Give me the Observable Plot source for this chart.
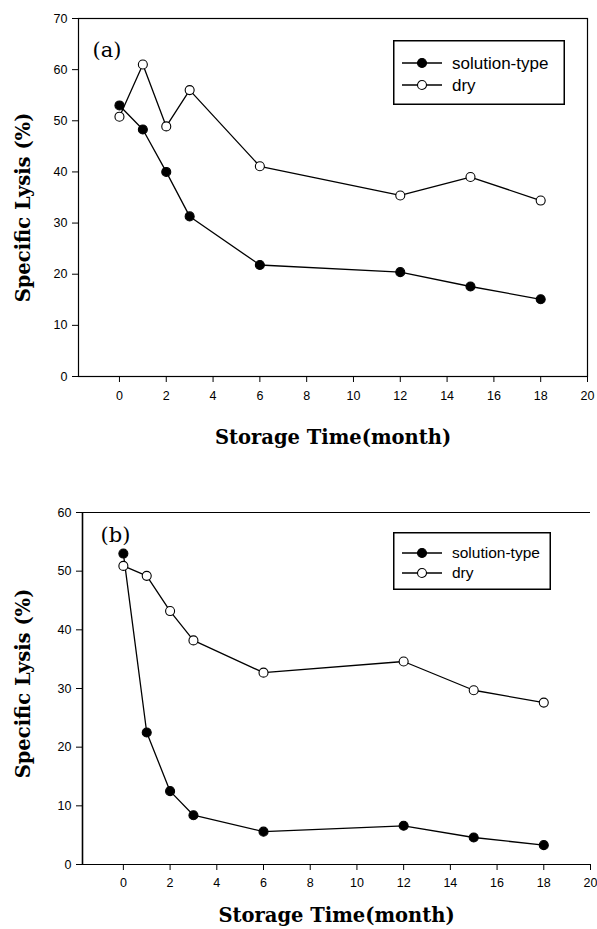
<!DOCTYPE html>
<html>
<head>
<meta charset="utf-8">
<script src="https://cdn.jsdelivr.net/npm/d3@7"></script>
<script src="https://cdn.jsdelivr.net/npm/@observablehq/plot@0.6"></script>
<style>
  html, body { margin: 0; padding: 0; background: #fff; }
  #wrap { width: 597px; }
  .panel { position: relative; width: 597px; }
  .legend { position: absolute; background: #fff; }
</style>
</head>
<body>
<div id="wrap"></div>
<script>
// ---- data ----
const months = [0, 1, 2, 3, 6, 12, 15, 18];
const solutionA = [53, 48.3, 40, 31.3, 21.8, 20.4, 17.6, 15.1];
const dryA = [50.8, 61, 48.9, 56, 41.1, 35.4, 39, 34.4];
const solutionB = [53, 22.5, 12.5, 8.4, 5.6, 6.6, 4.6, 3.3];
const dryB = [50.9, 49.2, 43.2, 38.2, 32.7, 34.6, 29.7, 27.6];
const seriesNames = ["solution-type", "dry"];
const xTicks = [0, 2, 4, 6, 8, 10, 12, 14, 16, 18, 20];
const yTicksA = [0, 10, 20, 30, 40, 50, 60, 70];
const yTicksB = [0, 10, 20, 30, 40, 50, 60];
const xDomain = [-1.75, 20];
const panelLabels = ["(a)", "(b)"];
const xTitle = "Storage Time(month)";
const yTitle = "Specific Lysis (%)";

function rows(sol, dry) {
  const out = [];
  months.forEach((m, i) => out.push({month: m, value: sol[i], series: seriesNames[0]}));
  months.forEach((m, i) => out.push({month: m, value: dry[i], series: seriesNames[1]}));
  return out;
}

const serif = "'DejaVu Serif', serif";
const sans = "'Liberation Sans', Arial, sans-serif";

function makePanel(cfg) {
  const data = rows(cfg.sol, cfg.dry);
  const sol = data.filter(d => d.series === seriesNames[0]);
  const dry = data.filter(d => d.series === seriesNames[1]);
  const frameMarks = cfg.fullFrame
    ? [Plot.frame({stroke: "#000", strokeWidth: 1.2})]
    : [
        Plot.ruleY([cfg.yDomain[1]], {stroke: "#000", strokeWidth: 1.2}),
        Plot.ruleY([cfg.yDomain[0]], {stroke: "#000", strokeWidth: 1.2}),
        Plot.ruleX([xDomain[0]], {stroke: "#000", strokeWidth: 1.6})
      ];
  const plot = Plot.plot({
    width: 597,
    height: cfg.height,
    marginTop: cfg.mt,
    marginBottom: cfg.mb,
    marginLeft: cfg.ml,
    marginRight: cfg.mr,
    style: {fontFamily: sans, fontSize: "12px", color: "#000", background: "#fff"},
    x: {domain: xDomain},
    y: {domain: cfg.yDomain},
    marks: [
      ...frameMarks,
      Plot.axisX(xTicks, {tickSize: 6, tickPadding: cfg.xPad, label: null, fontSize: 12.5}),
      Plot.axisY(cfg.yTicks, {tickSize: 6, tickPadding: 5, label: null, fontSize: 12.5}),
      Plot.line(sol, {x: "month", y: "value", stroke: "#000", strokeWidth: 1.3}),
      Plot.line(dry, {x: "month", y: "value", stroke: "#000", strokeWidth: 1.3}),
      Plot.dot(sol, {x: "month", y: "value", r: 4.5, fill: "#000", stroke: "#000", strokeWidth: 1.1}),
      Plot.dot(dry, {x: "month", y: "value", r: 4.5, fill: "#fff", stroke: "#000", strokeWidth: 1.1}),
      Plot.text([cfg.label], {frameAnchor: "top-left", dx: cfg.labelDx, dy: cfg.labelDy, textAnchor: "start", lineAnchor: "middle", fontFamily: serif, fontSize: 21, fill: "#000"}),
      Plot.text([xTitle], {frameAnchor: "bottom", dy: cfg.xTitleDy, textAnchor: "middle", lineAnchor: "middle", fontFamily: serif, fontWeight: "bold", fontSize: 19.5, fill: "#000"}),
      Plot.text([yTitle], {frameAnchor: "left", dx: cfg.yTitleDx, dy: cfg.yTitleDy, rotate: -90, textAnchor: "middle", lineAnchor: "middle", fontFamily: serif, fontWeight: "bold", fontSize: 19.5, fill: "#000"})
    ]
  });
  const div = document.createElement("div");
  div.className = "panel";
  div.appendChild(plot);

  // legend
  const lg = cfg.legend;
  const legDiv = d3.select(div).append("div").attr("class", "legend")
    .style("left", lg.left + "px").style("top", lg.top + "px");
  const svg = legDiv.append("svg").attr("width", lg.w).attr("height", lg.h).style("display", "block");
  svg.append("rect").attr("x", 0.75).attr("y", 0.75).attr("width", lg.w - 1.5).attr("height", lg.h - 1.5)
    .attr("fill", "#fff").attr("stroke", "#000").attr("stroke-width", 1.5);
  const g = svg.selectAll("g.item").data(seriesNames).join("g")
    .attr("transform", (d, i) => `translate(0,${lg.y0 + i * lg.dy})`);
  g.append("line").attr("x1", 9).attr("x2", 49).attr("stroke", "#000").attr("stroke-width", 1.3);
  g.append("circle").attr("cx", 29).attr("r", 4.5)
    .attr("fill", (d, i) => i === 0 ? "#000" : "#fff").attr("stroke", "#000").attr("stroke-width", 1.1);
  g.append("text").attr("x", 59).attr("dy", "0.35em").text(d => d)
    .attr("font-family", sans).attr("font-size", lg.fs).attr("fill", "#000");
  return div;
}

const wrap = document.getElementById("wrap");
wrap.appendChild(makePanel({
  sol: solutionA, dry: dryA, yDomain: [0, 70], yTicks: yTicksA, fullFrame: true,
  height: 470, mt: 18, mb: 94, ml: 78, mr: 10, xPad: 9,
  label: panelLabels[0], labelDx: 14, labelDy: 32,
  xTitleDy: 61, yTitleDx: -55, yTitleDy: 10,
  legend: {left: 393, top: 40, w: 172, h: 65, y0: 23, dy: 22, fs: 17}
}));
wrap.appendChild(makePanel({
  sol: solutionB, dry: dryB, yDomain: [0, 60], yTicks: yTicksB, fullFrame: false,
  height: 459, mt: 42, mb: 65, ml: 82, mr: 7, xPad: 8,
  label: panelLabels[1], labelDx: 18, labelDy: 23,
  xTitleDy: 51, yTitleDx: -59, yTitleDy: -5,
  legend: {left: 393, top: 62, w: 158, h: 58, y0: 21, dy: 20, fs: 15.5}
}));
</script>
</body>
</html>
